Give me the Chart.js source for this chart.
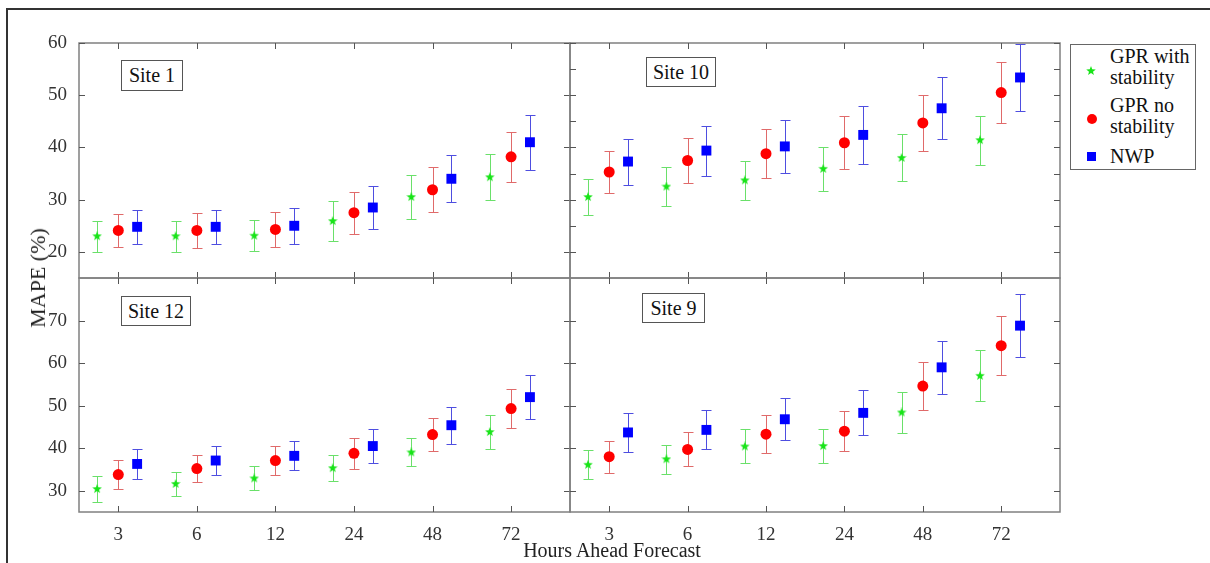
<!DOCTYPE html>
<html>
<head>
<meta charset="utf-8">
<script src="https://cdn.jsdelivr.net/npm/chart.js@4.4.1/dist/chart.umd.min.js"></script>
<style>
  html, body { margin: 0; padding: 0; background: #fff; }
  #wrap { position: relative; width: 1210px; height: 563px; overflow: hidden; font-family: 'Liberation Serif', 'Times New Roman', serif; }
  #wrap canvas { position: absolute; left: 0; top: 0; }
  .outer { position: absolute; left: 6px; top: 8px; width: 1300px; height: 700px; border-left: 2px solid #333; border-top: 2px solid #333; }
  .site { position: absolute; background: #fff; border: 1px solid #555; font-size: 20px; color: #111; text-align: center; box-sizing: border-box; line-height: 28px; z-index: 5; }
  .title { position: absolute; color: #222; white-space: nowrap; }
  #legend { position: absolute; left: 1070px; top: 44px; width: 126px; height: 126px; border: 1px solid #666; box-sizing: border-box; background: #fff; }
  .lg { position: absolute; left: 39px; font-size: 20px; line-height: 21px; color: #111; }
  .mk { position: absolute; }
</style>
</head>
<body>
<div id="wrap">
  <div class="outer"></div>
</div>
<script>
// categories and tick labels
const hours = ['3', '6', '12', '24', '48', '72'];
const seriesNames = ['GPR with stability', 'GPR no stability', 'NWP'];
const yTicksTop = [20, 30, 40, 50, 60];
const yTicksTopFine = [20, 25, 30, 35, 40, 45, 50, 55, 60];
const yTicksBottom = [30, 40, 50, 60, 70];

// Site 1 (MAPE mean and error half width)
const site1Gpr = [23.0, 23.0, 23.1, 25.9, 30.5, 34.3];
const site1GprErr = [3.0, 3.0, 3.0, 3.9, 4.2, 4.4];
const site1NoStab = [24.1, 24.1, 24.3, 27.5, 31.9, 38.2];
const site1NoStabErr = [3.2, 3.3, 3.3, 4.0, 4.3, 4.8];
const site1Nwp = [24.8, 24.8, 25.0, 28.5, 34.0, 41.0];
const site1NwpErr = [3.3, 3.3, 3.4, 4.1, 4.5, 5.3];

// Site 10
const site10Gpr = [30.5, 32.5, 33.7, 35.9, 38.0, 41.4];
const site10GprErr = [3.4, 3.7, 3.8, 4.2, 4.5, 4.7];
const site10NoStab = [35.3, 37.5, 38.8, 40.9, 44.7, 50.5];
const site10NoStabErr = [4.1, 4.4, 4.7, 5.1, 5.3, 5.9];
const site10Nwp = [37.3, 39.4, 40.2, 42.4, 47.5, 53.4];
const site10NwpErr = [4.4, 4.8, 5.1, 5.5, 5.9, 6.5];

// Site 12
const site12Gpr = [30.4, 31.6, 32.9, 35.3, 39.0, 43.8];
const site12GprErr = [3.0, 2.9, 2.8, 3.0, 3.3, 4.1];
const site12NoStab = [33.8, 35.2, 37.1, 38.8, 43.2, 49.3];
const site12NoStabErr = [3.4, 3.2, 3.3, 3.6, 3.8, 4.5];
const site12Nwp = [36.3, 37.1, 38.2, 40.5, 45.4, 52.0];
const site12NwpErr = [3.5, 3.4, 3.4, 3.9, 4.3, 5.1];

// Site 9
const site9Gpr = [36.1, 37.4, 40.4, 40.5, 48.4, 57.0];
const site9GprErr = [3.4, 3.4, 4.0, 4.0, 4.8, 6.0];
const site9NoStab = [38.0, 39.7, 43.3, 44.0, 54.6, 64.1];
const site9NoStabErr = [3.8, 4.0, 4.5, 4.7, 5.7, 6.9];
const site9Nwp = [43.7, 44.3, 46.8, 48.3, 59.0, 68.8];
const site9NwpErr = [4.6, 4.6, 4.9, 5.3, 6.3, 7.4];

const W = 1210, H = 563;
const FONT = "'Liberation Serif', 'Times New Roman', serif";
const offsets = [-0.27, 0, 0.24];
const markColors = ['#18e418', '#ff0000', '#0000ff'];
const barColors = ['#6ae06a', '#e06a6a', '#4e4ee0'];

function starCanvas(size, color) {
  const c = document.createElement('canvas');
  c.width = size; c.height = size;
  const g = c.getContext('2d');
  const cx = size / 2, cy = size / 2, R = size / 2, r = R * 0.42;
  g.beginPath();
  for (let i = 0; i < 10; i++) {
    const a = -Math.PI / 2 + i * Math.PI / 5;
    const rr = i % 2 ? r : R;
    g.lineTo(cx + rr * Math.cos(a), cy + rr * Math.sin(a));
  }
  g.closePath();
  g.fillStyle = color;
  g.fill();
  return c;
}
const star = starCanvas(10, markColors[0]);

const panels = [
  { name: 'Site 1', values: [site1Gpr, site1NoStab, site1Nwp], errors: [site1GprErr, site1NoStabErr, site1NwpErr],
    area: { left: 79, top: 43, right: 570, bottom: 278 }, min: 15, max: 60, labels: yTicksTop, marks: yTicksTop,
    yLabels: true, xLabels: false, box: [121, 60, 62, 31] },
  { name: 'Site 10', values: [site10Gpr, site10NoStab, site10Nwp], errors: [site10GprErr, site10NoStabErr, site10NwpErr],
    area: { left: 570, top: 43, right: 1060, bottom: 278 }, min: 15, max: 60, labels: yTicksTop, marks: yTicksTopFine,
    yLabels: false, xLabels: false, box: [646, 57, 70, 30] },
  { name: 'Site 12', values: [site12Gpr, site12NoStab, site12Nwp], errors: [site12GprErr, site12NoStabErr, site12NwpErr],
    area: { left: 79, top: 278, right: 570, bottom: 512 }, min: 25, max: 80, labels: yTicksBottom, marks: yTicksBottom,
    yLabels: true, xLabels: true, box: [121, 296, 70, 30] },
  { name: 'Site 9', values: [site9Gpr, site9NoStab, site9Nwp], errors: [site9GprErr, site9NoStabErr, site9NwpErr],
    area: { left: 570, top: 278, right: 1060, bottom: 512 }, min: 25, max: 80, labels: yTicksBottom, marks: yTicksBottom,
    yLabels: false, xLabels: true, box: [642, 293, 63, 30] }
];

// error bars under the markers
const errorBars = {
  id: 'errorBars',
  beforeDatasetsDraw(chart) {
    const ctx = chart.ctx, ys = chart.scales.y, a = chart.chartArea;
    ctx.save();
    ctx.lineWidth = 1;
    chart.data.datasets.forEach((ds, k) => {
      const meta = chart.getDatasetMeta(k);
      ctx.strokeStyle = barColors[k];
      meta.data.forEach((pt, i) => {
        const v = ds.data[i].y, e = ds.errors[i];
        const x = Math.round(pt.x) + 0.5;
        const y1 = Math.max(a.top, Math.round(ys.getPixelForValue(v + e)) + 0.5);
        const y2 = Math.round(ys.getPixelForValue(v - e)) + 0.5;
        ctx.beginPath();
        ctx.moveTo(x, y1); ctx.lineTo(x, y2);
        ctx.moveTo(x - 5, y1); ctx.lineTo(x + 5, y1);
        ctx.moveTo(x - 5, y2); ctx.lineTo(x + 5, y2);
        ctx.stroke();
      });
    });
    ctx.restore();
  }
};

// matlab style box with inward ticks
const frame = {
  id: 'frame',
  afterDraw(chart, args, opts) {
    const ctx = chart.ctx, a = chart.chartArea, xs = chart.scales.x, ys = chart.scales.y;
    ctx.save();
    ctx.strokeStyle = '#808080';
    ctx.lineWidth = 1.5;
    ctx.strokeRect(a.left, a.top, a.right - a.left, a.bottom - a.top);
    ctx.lineWidth = 1;
    ctx.strokeStyle = '#555';
    ctx.beginPath();
    hours.forEach((h, i) => {
      const x = Math.round(xs.getPixelForValue(i)) + 0.5;
      ctx.moveTo(x, a.top); ctx.lineTo(x, a.top + 6);
      ctx.moveTo(x, a.bottom); ctx.lineTo(x, a.bottom - 6);
    });
    opts.marks.forEach(v => {
      const y = Math.round(ys.getPixelForValue(v)) + 0.5;
      ctx.moveTo(a.left, y); ctx.lineTo(a.left + 6, y);
      ctx.moveTo(a.right, y); ctx.lineTo(a.right - 6, y);
    });
    ctx.stroke();
    ctx.restore();
  }
};

const wrap = document.getElementById('wrap');

panels.forEach(p => {
  const canvas = document.createElement('canvas');
  canvas.width = W; canvas.height = H;
  wrap.appendChild(canvas);
  const yw = p.yLabels ? 40 : 0;
  const xh = p.xLabels ? 30 : 0;

  new Chart(canvas, {
    type: 'scatter',
    data: {
      datasets: p.values.map((vals, k) => ({
        label: seriesNames[k],
        data: vals.map((v, i) => ({ x: i + offsets[k], y: v })),
        errors: p.errors[k],
        pointStyle: k === 0 ? star : (k === 1 ? 'circle' : 'rect'),
        pointRadius: k === 1 ? 5.5 : 7,
        backgroundColor: markColors[k],
        borderColor: markColors[k],
        borderWidth: 0
      }))
    },
    options: {
      responsive: false,
      animation: false,
      devicePixelRatio: 1,
      layout: { padding: { left: p.area.left - yw, top: p.area.top, right: W - p.area.right, bottom: H - p.area.bottom - xh } },
      plugins: { legend: { display: false }, tooltip: { enabled: false }, frame: { marks: p.marks } },
      scales: {
        x: {
          type: 'linear', min: -0.5, max: 5.75, display: p.xLabels,
          grid: { display: false }, border: { display: false },
          afterBuildTicks: s => { s.ticks = hours.map((h, i) => ({ value: i })); },
          afterFit: s => { s.height = xh; },
          ticks: { callback: v => hours[v], autoSkip: false, maxRotation: 0, padding: 4,
                   color: '#333', font: { family: FONT, size: 19 } }
        },
        y: {
          type: 'linear', min: p.min, max: p.max, display: p.yLabels,
          grid: { display: false }, border: { display: false },
          afterBuildTicks: s => { s.ticks = p.labels.map(v => ({ value: v })); },
          afterFit: s => { s.width = yw; },
          ticks: { padding: 4, color: '#333', font: { family: FONT, size: 19 } }
        }
      }
    },
    plugins: [errorBars, frame]
  });

  const b = document.createElement('div');
  b.className = 'site';
  b.textContent = p.name;
  b.style.left = p.box[0] + 'px';
  b.style.top = p.box[1] + 'px';
  b.style.width = p.box[2] + 'px';
  b.style.height = p.box[3] + 'px';
  wrap.appendChild(b);
});

// axis titles
const yt = document.createElement('div');
yt.className = 'title';
yt.textContent = 'MAPE (%)';
yt.style.fontSize = '22px';
yt.style.left = '38px'; yt.style.top = '278px';
yt.style.transform = 'translate(-50%, -50%) rotate(-90deg)';
wrap.appendChild(yt);

const xt = document.createElement('div');
xt.className = 'title';
xt.textContent = 'Hours Ahead Forecast';
xt.style.fontSize = '20px';
xt.style.left = '612px'; xt.style.top = '550px';
xt.style.transform = 'translate(-50%, -50%)';
wrap.appendChild(xt);

// legend
const lg = document.createElement('div');
lg.id = 'legend';
const lines = [['GPR with', 'stability'], ['GPR no', 'stability'], ['NWP']];
const tops = [1, 50, 101];
lines.forEach((ln, k) => {
  const t = document.createElement('div');
  t.className = 'lg';
  t.style.top = tops[k] + 'px';
  t.innerHTML = ln.join('<br>');
  lg.appendChild(t);
});
const s = starCanvas(10, markColors[0]);
s.className = 'mk'; s.style.left = '15px'; s.style.top = '21px';
lg.appendChild(s);
const c = document.createElement('div');
c.className = 'mk';
Object.assign(c.style, { left: '16px', top: '69px', width: '10px', height: '10px', borderRadius: '50%', background: markColors[1] });
lg.appendChild(c);
const q = document.createElement('div');
q.className = 'mk';
Object.assign(q.style, { left: '16px', top: '107px', width: '9px', height: '9px', background: markColors[2] });
lg.appendChild(q);
wrap.appendChild(lg);
</script>
</body>
</html>
